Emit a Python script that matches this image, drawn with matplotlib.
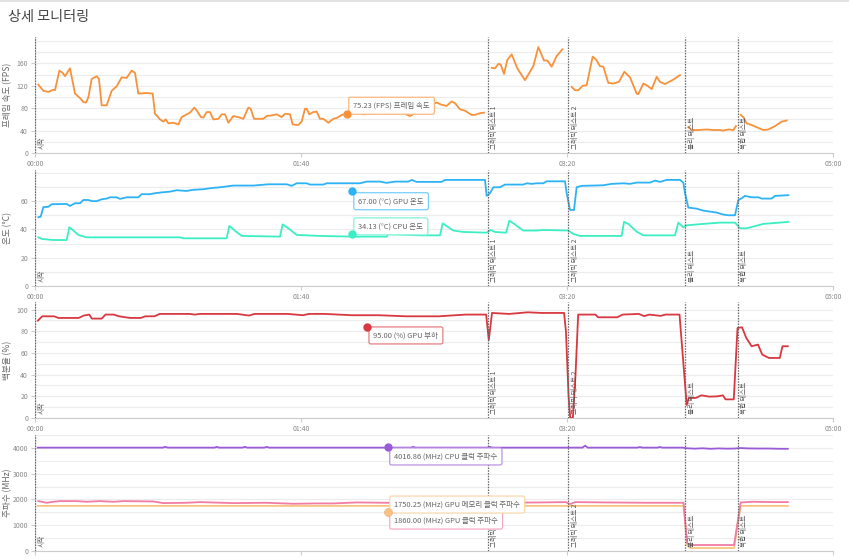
import numpy as np
import matplotlib
matplotlib.use("Agg")
import matplotlib.pyplot as plt
from matplotlib.lines import Line2D

plt.rcParams['font.family'] = ['Noto Sans CJK KR', 'DejaVu Sans']

# ---------------- data ----------------
title = "상세 모니터링"
x_tick_seconds = [0, 100, 200, 300]
x_tick_labels = ["00:00", "01:40", "03:20", "05:00"]
event_times = [0, 170.3, 200.5, 244.4, 264.2]
event_labels = ["시작", "그래픽 테스트 1", "그래픽 테스트 2", "물리 테스트", "복합 테스트"]

# frame rate (FPS); nan separates test segments
fps_t = [1.25, 3.13, 5.01, 6.89, 7.52, 9.15, 10.4, 11.28, 13.16, 15.04, 16.92, 18.17, 19.17, 20.05,
         21.3, 23.18, 24.06, 25.06, 26.94, 28.82, 30.7, 32.58, 34.46, 36.34, 37.59, 38.85, 41.98,
         44.24, 45.11, 45.74, 46.99, 48.25, 49.12, 50.13, 52.0, 53.88, 55.14, 57.02, 58.27, 59.9,
         60.78, 62.41, 63.28, 64.54, 65.79, 67.04, 68.92, 70.18, 71.43, 72.68, 74.56, 76.44, 78.32,
         80.2, 81.08, 82.33, 84.59, 85.84, 87.09, 88.97, 90.85, 92.73, 93.98, 95.86, 96.87, 98.99,
         100.25, 101.5, 102.13, 103.13, 104.64, 105.89, 107.14, 108.4, 110.28, 112.16, 113.66,
         115.29, 117.17, 120.0, 123.43, 126.0, 130.0, 134.0, 138.0, 140.98, 144.0, 148.5, 151.0,
         152.88, 154.76, 156.64, 157.89, 159.77, 161.65, 164.16, 165.41, 167.29, 168.8,
         170.0,
         171.68, 172.93, 174.19, 175.06, 176.32, 177.57, 179.2, 181.33, 184.21, 187.34, 189.22,
         191.35, 192.61, 194.24, 196.12, 198.25,
         200.0,
         201.75, 203.0, 204.26, 205.89, 207.39, 209.65, 210.9, 212.41, 213.66, 215.54, 217.42,
         219.55, 221.55, 223.68, 226.19, 226.82, 228.7, 229.95, 231.83, 233.71, 234.96, 236.84,
         239.97, 242.48,
         244.0,
         245.61, 246.87, 249.37, 252.51, 255.01, 257.52, 258.77, 260.65, 262.53, 263.53,
         264.4,
         265.29, 266.29, 267.54, 269.42, 271.3, 273.81, 275.69, 278.2, 280.7, 282.58]
fps_v = [122, 111, 109, 113, 112, 147, 143, 137, 151, 106, 98, 91, 90, 99,
         132, 137, 132, 85, 85, 111, 119, 135, 134, 147, 143, 106, 107,
         106, 70, 67, 60, 56, 60, 53, 54, 51, 64, 69, 72, 81,
         76, 64, 63, 73, 73, 60, 61, 69, 69, 54, 66, 64, 61,
         81, 79, 61, 61, 61, 66, 67, 69, 64, 70, 69, 51, 50,
         56, 79, 79, 69, 73, 74, 61, 61, 54, 61, 63,
         68, 70, 72, 69, 70, 74, 70, 72, 66, 74, 85, 90,
         86, 84, 92, 89, 78, 75.5, 68, 68, 71, 72,
         np.nan,
         152, 151, 159, 158, 141, 166, 176, 151, 130, 155, 189,
         165, 165, 154, 173, 185,
         np.nan,
         118, 112, 112, 120, 121, 172, 167, 155, 154, 125, 124,
         127, 145, 135, 106, 105, 124, 121, 114, 136, 127, 123,
         131, 139,
         np.nan,
         46, 41, 41, 42, 41, 41, 40, 42, 41, 48,
         np.nan,
         68, 64, 53, 50, 46, 41, 42, 48, 56, 58]

# temperatures (°C)
gpu_temp_t = [1.25, 2.13, 3.13, 5.01, 6.27, 11.9, 13.16, 15.04, 16.92, 18.17, 20.05, 21.3, 23.18,
              25.06, 26.94, 28.2, 30.7, 31.95, 34.46, 38.85, 40.1, 43.23, 45.11, 48.25, 50.75,
              53.26, 57.02, 59.52, 63.28, 65.79, 69.55, 74.56, 82.08, 87.72, 94.61, 96.49, 98.37,
              102.13, 103.38, 108.4, 109.65, 122.18, 124.69, 129.7, 132.21, 135.34, 140.35, 141.6,
              143.48, 152.88, 154.14, 168.55, 169.17, 169.8, 171.05, 172.3, 174.81, 176.69, 183.58,
              184.84, 186.72, 188.6, 191.1, 192.36, 199.25, 199.87, 201.13, 202.63, 203.63, 205.51,
              213.66, 216.79, 221.18, 223.68, 226.19, 231.2, 233.08, 234.96, 237.47, 242.48, 243.73,
              244.36, 245.61, 248.75, 251.25, 253.76, 256.27, 258.77, 260.65, 263.16, 264.41,
              265.66, 266.92, 269.42, 271.93, 273.18, 276.94, 278.2, 283.21]
gpu_temp_v = [48.6, 49, 55.7, 56, 57.8, 58, 56.6, 58.5, 58.5, 60.8, 60.8, 60, 60,
              61.3, 61.8, 62.7, 62.7, 61.6, 62.7, 62.7, 64.9, 64.9, 65.6, 66.3, 66.7,
              67.7, 67.2, 68, 68.4, 69.1, 69.8, 71, 71, 71.9, 71.9, 70.8, 72.6,
              72.6, 71.7, 71.7, 72.6, 72.6, 73.8, 73.8, 72.9, 73.8, 73.8, 75,
              73.6, 73.6, 75, 75, 75, 63.7, 65.6, 69.8, 69.8, 71.7, 71.7,
              72.6, 72.2, 72.6, 72.6, 74, 74, 65.6, 53.8, 53.8, 69.8, 70.8,
              71.2, 72.2, 72.6, 72.2, 73.1, 73.1, 74.5, 73.6, 75, 75, 73.1,
              65.6, 55.4, 54.7, 53.3, 52.6, 51.9, 50.5, 50, 50, 60.8,
              62, 63.7, 62.7, 62.7, 61.8, 61.8, 63.7, 64.2]
cpu_temp_t = [1.25, 2.51, 6.89, 11.9, 12.91, 14.41, 16.29, 19.42, 54.51, 55.76, 72.06, 73.06, 75.19,
              77.69, 92.11, 93.11, 95.24, 98.37, 107.14, 119.67, 132.21, 132.83, 144.74, 152.26,
              153.26, 157.27, 161.03, 169.8, 171.3, 172.93, 177.07, 178.32, 179.82, 183.58, 188.6,
              191.1, 200.5, 202.38, 204.89, 220.55, 221.43, 223.06, 226.19, 228.7, 240.6, 241.85,
              243.73, 244.99, 251.25, 257.52, 263.16, 265.04, 267.54, 273.81, 283.21]
cpu_temp_v = [34.4, 33.3, 32.5, 32.5, 41.5, 39.2, 36.1, 34.4, 34.4, 33.7, 33.7, 42.5, 39,
              35.4, 34.9, 43.6, 40.8, 36.1, 35.4, 34.9, 34.9, 36.8, 35.8, 35.8,
              44.3, 39.2, 38.2, 37.7, 39.6, 38.2, 37.7, 46.2, 44.3, 39.2, 39.2,
              39.6, 39.2, 36.8, 35.4, 35.4, 45.3, 43.9, 38.4, 35.8, 35.8, 44.8,
              41.5, 42.9, 43.9, 44.8, 44.8, 40.8, 40.8, 43.9, 45.3]

# GPU load (%)
load_t = [1.1, 2.7, 7.2, 8.8, 16.4, 18.4, 20.4, 21.4, 25.1, 26.5, 29.6, 31.6, 35.7, 39.8, 41.4,
          44.9, 46.9, 58.1, 60.1, 62.0, 64.2, 68.3, 76.0, 80.5, 82.5, 88.6, 95.0, 100.8, 102.9, 109,
          119.1, 129.3, 139.5, 151.7, 161.9, 169.6, 170.6, 171.8, 178.2, 185.3, 190.4, 198.9, 199.6,
          200.6, 201.2, 202.2, 203.2, 204.2, 210.7, 211.7, 218.9, 220.9, 227, 229, 231, 235.2, 237,
          242.3, 243.7, 245.0, 245.8, 248.4, 250.5, 253.5, 256.6, 258.6, 259.6, 262.7, 264.1, 265.8,
          267.4, 269.4, 271.8, 273.4, 275.9, 280, 281, 283]
load_v = [89.8, 93.8, 93.8, 92.3, 92.3, 94.5, 95.4, 91.7, 91.7, 95.4, 95.4, 93.8, 92.3, 92.3, 93.8,
          93.8, 96, 96, 95.4, 96, 96, 96, 96, 94.5, 96, 96, 96, 94.8, 96, 96,
          94.8, 94.8, 93.8, 93.8, 95.4, 95.4, 72, 96.9, 96, 97.5, 96.9, 96.9, 80,
          20, 0, 0, 40, 95.4, 95.4, 92.9, 92.9, 95.4, 96, 94, 95.4, 94.2, 95.4,
          95.4, 52, 12, 18.5, 18.5, 20.9, 19.7, 20, 20.9, 17.2, 17.2, 83, 83.7,
          73.8, 66.2, 67.7, 58.5, 55.4, 55.4, 66.2, 66.2]

# clocks (MHz)
cpu_clk_t = [1, 48, 48.9, 50, 67.5, 68.3, 69.2, 78, 78.9, 79.8, 86.2, 87.1, 88, 141.3, 142.2,
             143.1, 170, 171, 172, 205.8, 206.8, 207.8, 226.5, 227.4, 228.3, 234, 234.9, 235.8,
             243.5, 245, 248, 251, 254, 257, 260, 263, 265, 268, 272, 276, 280, 283]
cpu_clk_v = [4010, 4010, 4040, 4010, 4010, 4040, 4010, 4010, 4040, 4010, 4010, 4040, 4010, 4010, 4040,
             4010, 4010, 4040, 4010, 4010, 4085, 4010, 4010, 4035, 4010, 4010, 4035, 4010,
             4010, 3985, 3970, 3985, 3965, 3980, 3970, 3975, 3995, 3980, 3975, 3975, 3965, 3965]
gpu_clk_t = [1.25, 4.4, 6.9, 9.4, 15.7, 19.4, 24.4, 29.5, 33.3, 44.5, 48.2, 57, 62, 74.6, 87,
             97.1, 105, 112.2, 121, 132.2, 150, 168, 171.6, 173, 190, 199.5, 201.2, 203, 215, 230,
             243.8, 245.2, 246.5, 255, 262.8, 265.3, 270, 278, 283]
gpu_clk_v = [1935, 1871, 1910, 1935, 1935, 1910, 1935, 1910, 1935, 1922, 1858, 1871, 1897, 1858, 1871,
             1832, 1845, 1845, 1884, 1871, 1871, 1871, 1820, 1871, 1884, 1897, 1820, 1897, 1884, 1871,
             1871, 300, 232, 232, 232, 1884, 1910, 1897, 1897]
mem_clk_t = [1, 243.8, 245.2, 246.5, 262.8, 265.3, 283]
mem_clk_v = [1750, 1750, 200, 116, 116, 1750, 1750]

# hover tooltips: time, marker value, text
fps_hover = (117.2, 70, "75.23 (FPS) 프레임 속도")
gpu_temp_hover = (119.1, 67, "67.00 (°C) GPU 온도")
cpu_temp_hover = (119.1, 36.5, "34.13 (°C) CPU 온도")
load_hover = (124.8, 84, "95.00 (%) GPU 부하")
cpu_clk_hover = (132.6, 4016.86, "4016.86 (MHz) CPU 클럭 주파수")
mem_clk_hover = (132.6, 1530, "1750.25 (MHz) GPU 메모리 클럭 주파수")
gpu_clk_hover = (132.6, 1530, "1860.00 (MHz) GPU 클럭 주파수")

# ---------------- styling ----------------
C_FPS = '#f7923a'
C_GTEMP = '#2db3f5'
C_CTEMP = '#3ceec4'
C_LOAD = '#d8383f'
C_CCLK = '#9a5bd6'
C_GCLK = '#f27ba3'
C_MCLK = '#f6c47e'

W, H = 849, 559
fig = plt.figure(figsize=(W / 100, H / 100), dpi=100)
fig.patch.set_facecolor('white')

fig.add_artist(Line2D([0, 1], [1 - 0.8 / H] * 2, color='#dddddd', lw=1.2))
fig.text(8 / W, 1 - 17 / H, title, fontsize=10.2, color='#444444', ha='left', va='center')

left = 35 / W
width = (833 - 35) / W
panel_px = [(37, 153), (170, 286), (302, 418), (435, 551)]
ylims = [207, 82, 107, 4500]
major = [[0, 40, 80, 120, 160], [0, 20, 40, 60], [0, 20, 40, 60, 80, 100],
         [0, 1000, 2000, 3000, 4000]]
minor = [np.arange(0, 201, 20), np.arange(0, 81, 10), np.arange(0, 101, 10),
         np.arange(0, 4501, 500)]
ylabels = ["프레임 속도 (FPS)", "온도 (°C)", "백분율 (%)", "주파수 (MHz)"]

axes = []
for i, (top, bot) in enumerate(panel_px):
    ax = fig.add_axes([left, 1 - bot / H, width, (bot - top) / H])
    ax.set_xlim(0, 300)
    ax.set_ylim(0, ylims[i])
    ax.set_yticks(major[i])
    ax.set_yticks(minor[i], minor=True)
    ax.set_xticks(x_tick_seconds)
    ax.set_xticklabels(x_tick_labels)
    ax.tick_params(axis='both', which='major', labelsize=5.0, labelcolor='#888888',
                   color='#cccccc', length=3, width=0.8, pad=2)
    ax.tick_params(axis='y', which='minor', length=0)
    ax.grid(axis='y', which='both', color='#ececec', lw=0.8)
    ax.set_axisbelow(True)
    for s in ['top', 'right']:
        ax.spines[s].set_visible(False)
    ax.spines['bottom'].set_color('#cccccc')
    ax.spines['bottom'].set_linewidth(0.8)
    ax.spines['left'].set_color('#cccccc')
    ax.spines['left'].set_linewidth(0.8)
    ax.set_ylabel(ylabels[i], fontsize=6.2, color='#666666', labelpad=4)
    ax.yaxis.set_label_coords(-0.0285, 0.5)
    for t, lab in zip(event_times, event_labels):
        ax.axvline(t, color='#666666', ls=(0, (1.2, 1.0)), lw=0.9, zorder=4)
        ax.annotate(lab, xy=(t, 0), xycoords=('data', 'axes fraction'), xytext=(1.8, 3),
                    textcoords='offset points', rotation=90, ha='left', va='bottom',
                    fontsize=4.8, color='#555555', zorder=5)
    axes.append(ax)

LW = 1.3
ax1, ax2, ax3, ax4 = axes
ax1.plot(fps_t, fps_v, color=C_FPS, lw=LW, zorder=3)
ax2.plot(gpu_temp_t, gpu_temp_v, color=C_GTEMP, lw=LW, zorder=3)
ax2.plot(cpu_temp_t, cpu_temp_v, color=C_CTEMP, lw=LW, zorder=3)
ax3.plot(load_t, load_v, color=C_LOAD, lw=LW, zorder=3)
ax4.plot(cpu_clk_t, cpu_clk_v, color=C_CCLK, lw=LW, zorder=3)
ax4.plot(mem_clk_t, mem_clk_v, color=C_MCLK, lw=LW, zorder=3)
ax4.plot(gpu_clk_t, gpu_clk_v, color=C_GCLK, lw=LW, zorder=3)


def lighten(c, f):
    import matplotlib.colors as mc
    r, g, b = mc.to_rgb(c)
    return (r + (1 - r) * f, g + (1 - g) * f, b + (1 - b) * f)


def tooltip(ax, hover, color, dy_px, marker=True):
    t, v, text = hover
    ax.annotate(text, xy=(t, v), xytext=(6.5 * 0.72, dy_px * 0.72), textcoords='offset points',
                ha='left', va='center', fontsize=5.4, color='#666666', zorder=8,
                bbox=dict(boxstyle='round,pad=0.6,rounding_size=0.25', fc='white',
                          ec=lighten(color, 0.35), lw=0.9))
    if marker:
        ax.plot([t], [v], 'o', color=color, ms=5, zorder=9, clip_on=False)


tooltip(ax1, fps_hover, C_FPS, 8)
tooltip(ax2, gpu_temp_hover, C_GTEMP, -10)
tooltip(ax2, cpu_temp_hover, C_CTEMP, 8)
tooltip(ax3, load_hover, C_LOAD, -8.5)
tooltip(ax4, cpu_clk_hover, C_CCLK, -9)
tooltip(ax4, gpu_clk_hover, C_GCLK, -9)
tooltip(ax4, mem_clk_hover, C_MCLK, 7)

fig.savefig("out.png", dpi=100, facecolor='white')
